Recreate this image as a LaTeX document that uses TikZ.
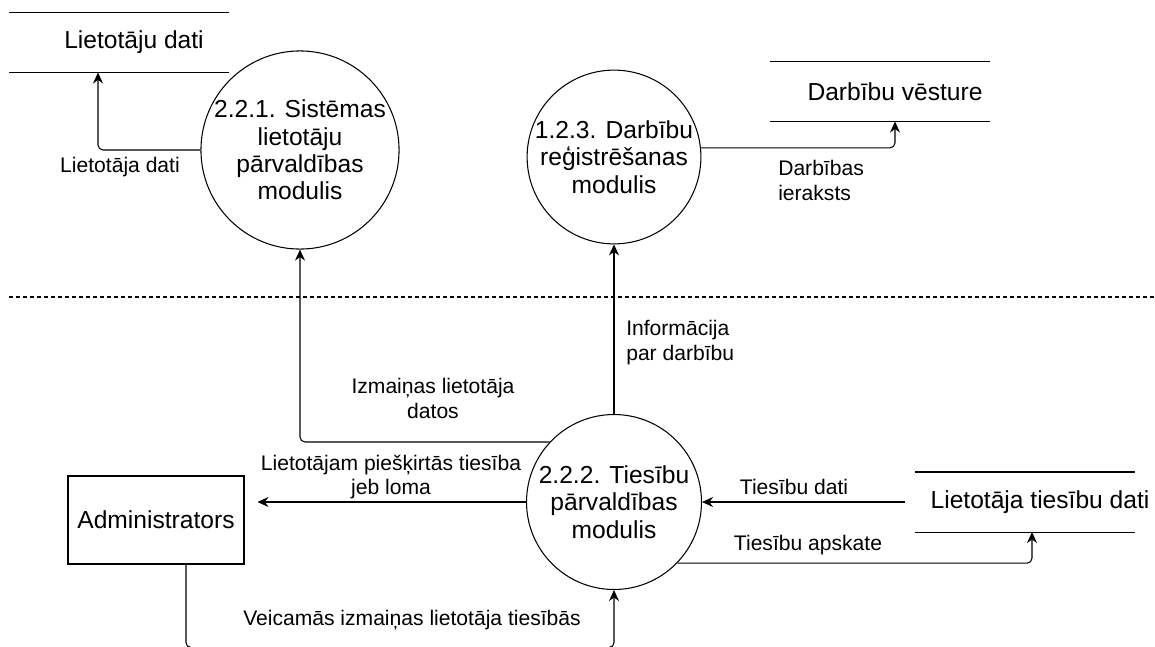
\documentclass[tikz,border=0pt]{standalone}
\usepackage{fontspec}
\setmainfont{Liberation Sans}
\usetikzlibrary{arrows.meta}
\begin{document}
\begin{tikzpicture}[x=0.02cm,y=-0.02cm,line width=0.6pt,
    >={Stealth[length=2.2mm,width=2mm]},
    process/.style={circle,draw,minimum size=#1,inner sep=0pt,align=center,font=\fontsize{14}{15.5}\selectfont},
    store/.style={minimum height=1.18cm,inner sep=0pt,font=\fontsize{14}{15.5}\selectfont},
    entity/.style={rectangle,draw,minimum width=3.52cm,minimum height=1.76cm,inner sep=0pt,font=\fontsize{14}{15.5}\selectfont},
    flow/.style={align=center,inner sep=1pt,font=\fontsize{12}{14.2}\selectfont}]
        \useasboundingbox (0,0) rectangle (1155,646);
        \node [store] (s1) at (134,42.5) {Lietotāju dati};
        \node [store] (s2) at (895,91.5) {Darbību vēsture};
        \node [store] (s3) at (1040,502) {Lietotāja tiesību dati};
        \foreach \s in {s1,s2,s3}
            \draw (\s.north) +(-125,0) -- +(95,0) (\s.south) +(-125,0) -- +(95,0);
        \node [process=3.52cm] (c1) at (300,150) {2.2.1. Sistēmas\\lietotāju\\pārvaldības\\modulis};
        \node [process=3.4cm] (c2) at (614,157) {1.2.3. Darbību\\reģistrēšanas\\modulis};
        \node [process=3.5cm] (c3) at (614,502) {2.2.2. Tiesību\\pārvaldības\\modulis};
        \node [entity] (a1) at (156,520) {Administrators};
        \draw [dash pattern=on 0.08cm off 0.06cm] (9,297) -- (1155,297);
        \draw [->, rounded corners=0.1cm] (c1.west) -| ([xshift=-0.72cm]s1.south);
        \node [flow] (l1) at (120,167) {Lietotāja dati};
        \draw [->, rounded corners=0.1cm] (c2.6) -| (s2.south);
        \node [flow, align=left, anchor=west] (l2) at (776,180) {Darbības\\ieraksts};
        \draw [->, rounded corners=0.1cm] (c3.137) -| (c1.south);
        \node [flow] (l3) at (433,398) {Izmaiņas lietotāja\\datos};
        \draw [->] (c3.north) -- (c2.south);
        \node [flow, align=left, anchor=west] (l4) at (624,343) {Informācija\\par darbību};
        \draw [->] (c3.west) -- ([xshift=0.26cm]c3.west -| a1.east);
        \node [flow] (l5) at (391,477) {Lietotājam piešķirtās tiesība\\jeb loma};
        \draw [->, rounded corners=0.1cm] ([xshift=0.6cm]a1.south) -- ++(0,83) -| (c3.south);
        \node [flow] (l6) at (412,620) {Veicamās izmaiņas lietotāja tiesībās};
        \draw [->] ([xshift=-2.7cm]s3.center) -- (c3.east);
        \node [flow] (l7) at (794,487) {Tiesību dati};
        \draw [->, rounded corners=0.1cm] (c3.-44) -| ([xshift=-0.16cm]s3.south);
        \node [flow] (l8) at (808,545) {Tiesību apskate};
    \end{tikzpicture}
\end{document}
